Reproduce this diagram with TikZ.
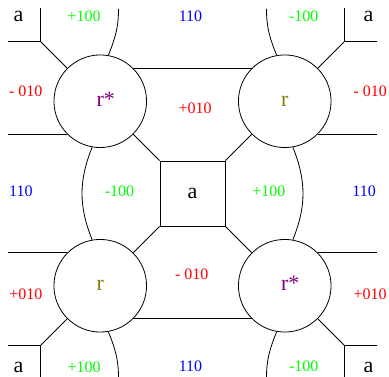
\documentclass[tikz,border=0pt]{standalone}
\usepackage{fontspec}
\setmainfont{Liberation Serif}
\usepackage{xcolor}
\definecolor{LblRed}{HTML}{FF0000}
\definecolor{LblBlue}{HTML}{0000FF}
\definecolor{LblGreen}{HTML}{00FF00}
\definecolor{SitePurple}{HTML}{800080}
\definecolor{SiteOlive}{HTML}{808000}

\begin{document}
\begin{tikzpicture}[x=1pt, y=1pt, line width=0.8pt,
      cell/.style={draw, minimum size=65pt, inner sep=0pt, font=\fontsize{22}{22}\selectfont},
      site/.style={draw, circle, minimum size=92.6pt, inner sep=0pt, font=\fontsize{22}{22}\selectfont},
      big/.style={font=\fontsize{22}{22}\selectfont},
      lbl/.style={inner sep=0pt, font=\fontsize{16}{16}\selectfont}
    ]
      \useasboundingbox (0,0) rectangle (389,377);
      \node[cell] (sq) at (192.5,183.5) {a};
      \begin{scope}
        \clip (8,-1) rectangle (377,368);
        \node[cell] (cnw) at (8,368) {};
        \node[cell] (cne) at (377,368) {};
        \node[cell] (csw) at (8,-1) {};
        \node[cell] (cse) at (377,-1) {};
      \end{scope}
      \node[site, text=SitePurple] (nw) at (100.25,275.75) {r\rlap{\smash{*}}};
      \node[site, text=SiteOlive]  (ne) at (284.75,275.75) {r};
      \node[site, text=SiteOlive]  (sw) at (100.25,91.25) {r};
      \node[site, text=SitePurple] (se) at (284.75,91.25) {r\rlap{\smash{*}}};
      \coordinate (W) at (8,0);
      \coordinate (E) at (377,0);
      \coordinate (t1) at (118.5,368);
      \coordinate (t2) at (266.5,368);
      \coordinate (b1) at (118.5,-1);
      \coordinate (b2) at (266.5,-1);
      \draw (nw.north east) -- (ne.north west);
      \draw (sw.south east) -- (se.south west);
      \draw (nw.south east) -- (sq.north west);
      \draw (ne.south west) -- (sq.north east);
      \draw (sw.north east) -- (sq.south west);
      \draw (se.north west) -- (sq.south east);
      \draw (nw.north west) -- (cnw.south east);
      \draw (ne.north east) -- (cne.south west);
      \draw (sw.south west) -- (csw.north east);
      \draw (se.south east) -- (cse.north west);
      \draw (nw.south west) -- (nw.south west -| W);
      \draw (sw.north west) -- (sw.north west -| W);
      \draw (ne.south east) -- (ne.south east -| E);
      \draw (se.north east) -- (se.north east -| E);
      \draw (nw.-100) to[bend right=22] (sw.100);
      \draw (ne.-80) to[bend left=22] (se.80);
      \draw (nw.80) to[out=68, in=-90] (t1);
      \draw (ne.100) to[out=112, in=-90] (t2);
      \draw (sw.-80) to[out=-68, in=90] (b1);
      \draw (se.-100) to[out=-112, in=90] (b2);
      \node[big] (anw) at (18.5,360.5) {a};
      \node[big] (ane) at (368.5,360.5) {a};
      \node[big] (asw) at (18.5,9.5) {a};
      \node[big] (ase) at (368.5,9.5) {a};
      \node[lbl, text=LblGreen] (n1) at (84,360.5) {+100};
      \node[lbl, text=LblBlue]  (n2) at (190.5,361) {110};
      \node[lbl, text=LblGreen] (n3) at (303.7,361) {-100};
      \node[lbl, text=LblRed]   (e1) at (25.8,286) {- 010};
      \node[lbl, text=LblRed]   (e2) at (195.2,268.5) {+010};
      \node[lbl, text=LblRed]   (e3) at (370.2,286) {- 010};
      \node[lbl, text=LblBlue]  (m1) at (20.8,186) {110};
      \node[lbl, text=LblGreen] (m2) at (119.5,185.7) {-100};
      \node[lbl, text=LblGreen] (m3) at (268.8,185.7) {+100};
      \node[lbl, text=LblBlue]  (m4) at (364.2,186) {110};
      \node[lbl, text=LblRed]   (w1) at (25.8,83.2) {+010};
      \node[lbl, text=LblRed]   (w2) at (191.8,102.8) {- 010};
      \node[lbl, text=LblRed]   (w3) at (370.2,83.2) {+010};
      \node[lbl, text=LblGreen] (s1) at (84.2,10) {+100};
      \node[lbl, text=LblBlue]  (s2) at (190.5,10.5) {110};
      \node[lbl, text=LblGreen] (s3) at (303.8,10.8) {-100};
    \end{tikzpicture}
\end{document}
